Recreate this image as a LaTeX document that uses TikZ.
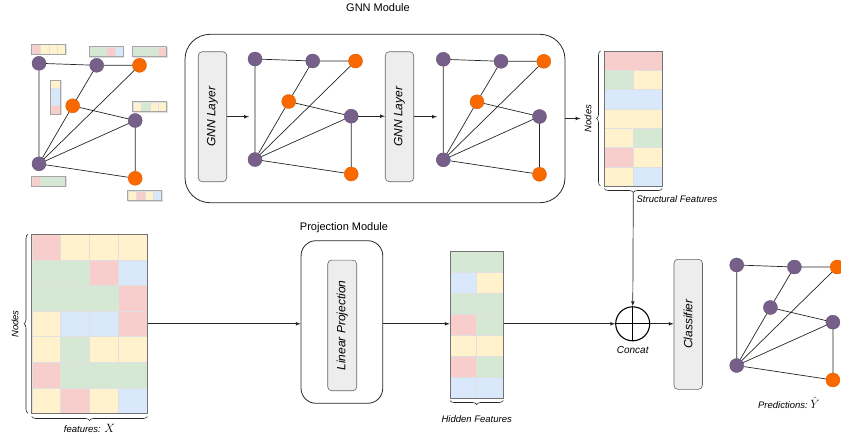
\documentclass[tikz,border=0pt]{standalone}
\usepackage{fontspec}
\setmainfont{Liberation Sans}
\usetikzlibrary{arrows,positioning,shapes,decorations.pathreplacing}
\definecolor{cpink}{HTML}{F8CECC}
\definecolor{cyellow}{HTML}{FFF2CC}
\definecolor{cgreen}{HTML}{D5E8D4}
\definecolor{cblue}{HTML}{DAE8FC}
\definecolor{gpurple}{HTML}{76608A}
\definecolor{gorange}{HTML}{FA6800}
\tikzstyle{pnode}=[circle,fill=gpurple,draw=gpurple!85!black,line width=0.4pt,minimum size=14pt,inner sep=0pt]
\tikzstyle{onode}=[pnode,fill=gorange,draw=gorange!90!black]
\tikzstyle{link}=[draw=black!85,line width=0.7pt]
\tikzstyle{module}=[rectangle,draw=black!85,line width=0.8pt,inner sep=0pt]
\tikzstyle{layer}=[rectangle,draw=black!60,fill=black!7,line width=0.6pt,
			  rounded corners=4pt,inner sep=0pt,minimum width=28.5pt,minimum height=130pt]
\tikzstyle{cell}=[draw=black!12,line width=0.4pt]
\tikzstyle{rim}=[draw=black!55,line width=0.6pt]
\tikzstyle{brc}=[decorate,decoration={brace,amplitude=4pt},draw=black!85,line width=0.6pt]
\tikzstyle{lbl}=[font=\fontsize{9.5}{11}\selectfont\itshape]
\tikzstyle{boxlbl}=[font=\fontsize{12}{14}\selectfont\itshape,rotate=90]
\tikzstyle{title}=[font=\fontsize{11}{13}\selectfont]
\newcommand{\bigmath}[1]{{\fontsize{11.5}{13}\selectfont$#1$}}

% one small graph: prefix, x, y, style of the middle node
\newcommand{\smallgraph}[4]{%
  \begin{scope}[shift={(#2,#3)}]
    \node[pnode] (#1a) at (0,0) {};
    \node[pnode] (#1b) at (57.7,2) {};
    \node[onode] (#1c) at (100.5,2) {};
    \node[#4] (#1d) at (33.7,42.5) {};
    \node[pnode] (#1e) at (96.2,57.2) {};
    \node[pnode] (#1f) at (0,100.5) {};
    \node[onode] (#1g) at (96.2,115) {};
  \end{scope}
  \path[link] (#1a)--(#1b) (#1b)--(#1c) (#1a)--(#1f) (#1f)--(#1d) (#1d)--(#1b)
    (#1f)--(#1c) (#1d)--(#1e) (#1f)--(#1e) (#1f)--(#1g) (#1e)--(#1g);
}
% feature strip of four cells: x, y, colours
\newcommand{\featrow}[3]{%
  \foreach \c [count=\i] in {#3}
    \draw[cell,fill=\c] ({#1+(\i-1)*8.5},#2) rectangle ++(8.5,10);
  \draw[rim,draw=black!35] (#1,#2) rectangle ++(34,10);
}
\newcommand{\featcol}[3]{%
  \foreach \c [count=\i] in {#3}
    \draw[cell,fill=\c] (#1,{#2+(\i-1)*8.5}) rectangle ++(10.7,8.5);
  \draw[rim,draw=black!35] (#1,#2) rectangle ++(10.7,34);
}

\begin{document}
\begin{tikzpicture}[x=1pt,y=-1pt,>=stealth',auto]
	\useasboundingbox (0,0) rectangle (841,437);

	% input graph with node features
	\smallgraph{in}{39}{63.3}{onode}
	\featrow{31.7}{44}{cpink,cyellow,cyellow,cyellow}
	\featrow{89.3}{46.7}{cgreen,cgreen,cpink,cblue}
	\featrow{132.7}{46.7}{cgreen,cgreen,cgreen,cpink}
	\featcol{50}{80}{cyellow,cblue,cblue,cpink}
	\featrow{132.7}{101.7}{cyellow,cgreen,cyellow,cyellow}
	\featrow{31.7}{176}{cpink,cgreen,cgreen,cgreen}
	\featrow{127.7}{190.7}{cyellow,cpink,cyellow,cblue}

	% GNN module
	\node[title] (gnntitle) at (378,8) {GNN Module};
	\node[module,rounded corners=25pt,minimum width=380pt,minimum height=168.4pt] (gnn) at (375,118.5) {};
	\node[layer] (layer1) at (212.5,116.7) {};
	\node[boxlbl] at (layer1) {GNN Layer};
	\node[layer] (layer2) at (399.5,116.7) {};
	\node[boxlbl] at (layer2) {GNN Layer};
	\smallgraph{ga}{255}{59}{onode}
	\smallgraph{gb}{443.3}{59.3}{onode}
	\coordinate (ina) at (249,116.7);
	\coordinate (inb) at (437,116.7);
	\draw[-latex,link] (layer1) -- (ina);
	\draw[-latex,link] (gae) -- (gae -| layer2.west);
	\draw[-latex,link] (layer2) -- (inb);

	% structural features
	\foreach \l/\r [count=\j] in {cpink/cpink,cgreen/cyellow,cblue/cblue,cyellow/cyellow,cyellow/cgreen,cpink/cyellow,cyellow/cblue}{
		\fill[\l] (604.3,{51+(\j-1)*19.29}) rectangle ++(29,19.29);
		\fill[\r] (633.3,{51+(\j-1)*19.29}) rectangle ++(29,19.29);
		\draw[cell] (604.3,{51+(\j-1)*19.29}) rectangle ++(58,19.29);
		\ifx\l\r\else \draw[cell] (633.3,{51+(\j-1)*19.29}) -- ++(0,19.29); \fi
	}
	\node[rectangle,rim,inner sep=0pt,minimum width=58pt,minimum height=135pt] (struct) at (633.3,118.5) {};
	\coordinate (sfin) at (580.5,118.5);
	\draw[-latex,link] (gnn) -- (sfin);
	\draw[brc] (600.5,186) -- (600.5,51);
	\node[lbl,rotate=90] (sfnodes) at (588,118.5) {Nodes};
	\draw[brc] (662.3,188.5) -- (604.3,188.5);
	\coordinate (sftip) at (633.3,193);
	\node[lbl] (sflabel) at (677,199) {Structural Features};

	% node feature matrix
	\foreach \row [count=\j] in {{cpink,cyellow,cyellow,cyellow},{cgreen,cgreen,cpink,cblue},
			{cgreen,cgreen,cgreen,cpink},{cyellow,cblue,cblue,cpink},{cyellow,cgreen,cyellow,cyellow},
			{cpink,cgreen,cgreen,cgreen},{cyellow,cpink,cyellow,cblue}}
		\foreach \c [count=\i] in \row
			\draw[cell,fill=\c] ({31.7+(\i-1)*28.9},{234.3+(\j-1)*25.57}) rectangle ++(28.9,25.57);
	\node[rectangle,rim,inner sep=0pt,minimum width=115.6pt,minimum height=179pt] (X) at (89.5,323.8) {};
	\draw[brc] (28,413.3) -- (28,234.3);
	\node[lbl,rotate=90] (xnodes) at (15,324) {Nodes};
	\draw[brc] (147.3,416.5) -- (31.7,416.5);
	\node[lbl] (xlabel) at (89.5,428) {features: \bigmath{X}};

	% projection module
	\node[title] (projtitle) at (344,228) {Projection Module};
	\node[module,rounded corners=15pt,minimum width=81.7pt,minimum height=162.6pt] (proj) at (341.9,322) {};
	\node[layer,minimum width=29pt,minimum height=130.7pt] (linear) at (342.2,325.4) {};
	\node[boxlbl] at (linear) {Linear Projection};
	\draw[-latex,link] (X) -- (X -| proj.west);

	% hidden features
	\foreach \row [count=\j] in {{cgreen,cgreen},{cblue,cyellow},{cgreen,cgreen},{cpink,cgreen},
			{cyellow,cyellow},{cpink,cgreen},{cblue,cblue}}
		\foreach \c [count=\i] in \row
			\draw[cell,fill=\c] ({450+(\i-1)*26.65},{251+(\j-1)*21.04}) rectangle ++(26.65,21.04);
	\node[rectangle,rim,inner sep=0pt,minimum width=53.3pt,minimum height=147.3pt] (hidden) at (476.65,324.65) {};
	\draw[-latex,link] (proj.east |- X) -- (X -| hidden.west);
	\draw[brc] (503.3,400.5) -- (450,400.5);
	\node[lbl] (hlabel) at (476.7,419) {Hidden Features};

	% concat and classifier
	\node[circle,draw=black,line width=1.1pt,minimum size=34pt,inner sep=0pt] (concat) at (632.7,323.8) {};
	\draw[line width=1.1pt] (concat.north) -- (concat.south) (concat.west) -- (concat.east);
	\node[lbl,font=\fontsize{10}{12}\selectfont\itshape] (clabel) at (632.7,350) {Concat};
	\draw[-latex,link] (hidden.east |- X) -- (concat);
	\draw[-latex,link] (sftip) -- (concat);
	\node[layer] (cls) at (688.2,324.3) {};
	\node[boxlbl] at (cls) {Classifier};
	\draw[-latex,link] (concat) -- (concat -| cls.west);

	% predictions
	\smallgraph{pr}{736.7}{265}{pnode}
	\node[lbl] (plabel) at (789,403) {Predictions:\ \bigmath{\hat{Y}}};
\end{tikzpicture}
\end{document}
